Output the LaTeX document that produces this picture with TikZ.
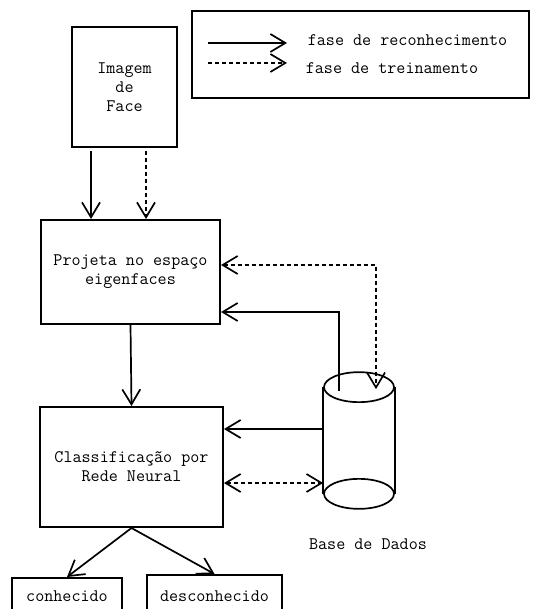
\documentclass[tikz,border=0pt]{standalone}
\usepackage{fontspec}
\usetikzlibrary{arrows.meta,calc}
\begin{document}
\begin{tikzpicture}[x=1pt,y=-1pt,line width=1.7pt,
  font=\ttfamily\fontsize{17.6}{19}\selectfont,
  box/.style={draw,line width=2pt,rectangle,align=center,inner sep=0pt},
  tip/.style={-{Straight Barb[length=15pt,width=18pt]}},
  bothtips/.style={{Straight Barb[length=15pt,width=18pt]}-{Straight Barb[length=15pt,width=18pt]}},
  dotline/.style={dash pattern=on 4pt off 3pt}]
\useasboundingbox (0,0) rectangle (532,609);
\clip (0,0) rectangle (532,609);

% legend
\node[box,minimum width=337pt,minimum height=87pt] (legend) at (360.5,54.5) {};
\coordinate (ls1) at (208,43);  \coordinate (le1) at (287,43);
\coordinate (ls2) at (208,63);  \coordinate (le2) at (287,63);
\draw[tip] (ls1) -- (le1);
\draw[tip,dotline] (ls2) -- (le2);
\node[anchor=west,inner sep=0pt] (lt1) at (307,40) {fase de reconhecimento};
\node[anchor=west,inner sep=0pt] (lt2) at (305,68) {fase de treinamento};

% processing boxes
\node[box,minimum width=105pt,minimum height=120pt] (face) at (124.5,87) {Imagem\\de\\Face};
\node[box,minimum width=179pt,minimum height=104pt] (proj) at (130.5,272) {Projeta no espaço\\eigenfaces};
\node[box,minimum width=183pt,minimum height=120pt] (class) at (131.5,467) {Classificação por\\Rede Neural};
\node[box,minimum width=110pt,minimum height=36pt] (known) at (67,596) {conhecido};
\node[box,minimum width=135pt,minimum height=42pt] (unknown) at (214.5,596) {desconhecido};

% database cylinder
\node[minimum width=70pt,minimum height=105pt,inner sep=0pt] (db) at (359,440.5) {};
\draw (db.north west) -- (db.south west) (db.north east) -- (db.south east);
\draw[fill=white] (db.north) ellipse [x radius=35pt,y radius=15pt];
\draw (db.south) ellipse [x radius=35pt,y radius=15pt];
\node[inner sep=0pt] (dblabel) at (368,544) {Base de Dados};

% face image to projection
\coordinate (fs1) at ($(face.south west)+(20,3)$);
\coordinate (fe1) at (fs1 |- proj.north);
\coordinate (fs2) at ($(face.south west)+(75,3)$);
\coordinate (fe2) at (fs2 |- proj.north);
\draw[tip] (fs1) -- (fe1);
\draw[tip,dotline] (fs2) -- (fe2);
% projection to classifier
\draw[tip] (proj.south) -- (class.north);

% database links with the projection box
\coordinate (dbsolid) at ($(db.north)+(-20,4)$);
\coordinate (dbdot) at ($(db.north)+(17,2)$);
\coordinate (projsolid) at (proj.east |- 0,312);
\coordinate (projdot) at (proj.east |- 0,265);
\draw[tip] (dbsolid) |- (projsolid);
\draw[bothtips,dotline] (projdot) -| (dbdot);

% database links with the classifier
\coordinate (dbw1) at (db.west |- 0,429);
\coordinate (clse1) at (class.east |- 0,429);
\coordinate (dbw2) at (db.west |- 0,483);
\coordinate (clse2) at (class.east |- 0,483);
\draw[tip] (dbw1) -- (clse1);
\draw[bothtips,dotline] (clse2) -- (dbw2);

% classifier outputs
\draw[tip] (class.south) -- (known.north);
\draw[tip] (class.south) -- (unknown.north);
\end{tikzpicture}
\end{document}
